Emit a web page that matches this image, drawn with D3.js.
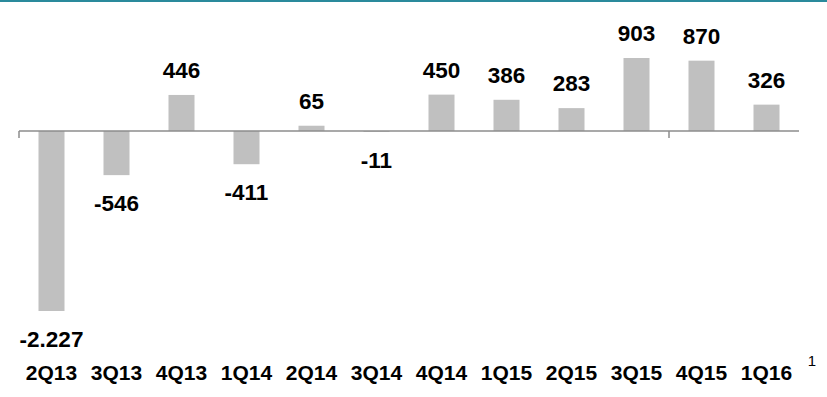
<!DOCTYPE html>
<html><head><meta charset="utf-8">
<script src="https://cdn.jsdelivr.net/npm/d3@7"></script>
<style>body{margin:0;background:#fff}svg{display:block}</style>
</head><body>
<svg id="c" width="827" height="397"></svg>
<script>
const categories = ["2Q13","3Q13","4Q13","1Q14","2Q14","3Q14","4Q14","1Q15","2Q15","3Q15","4Q15","1Q16"];
const values = [-2227,-546,446,-411,65,-11,450,386,283,903,870,326];
const valueLabels = ["-2.227","-546","446","-411","65","-11","450","386","283","903","870","326"];

const svg = d3.select("#c");
const W = 827, H = 397;
svg.append("rect").attr("x",0).attr("y",0).attr("width",W).attr("height",2).attr("fill","#2a8a9c");

const x = d3.scaleBand().domain(categories).range([19, 799]).paddingInner(0.6).paddingOuter(0.3);
const y = d3.scaleLinear().domain([-2227, 903]).range([311, 58]);
const font = "Arial, 'Liberation Sans', sans-serif";

svg.selectAll("rect.bar").data(values).enter().append("rect")
  .attr("class","bar")
  .attr("x",(d,i)=>x(categories[i]))
  .attr("width",x.bandwidth())
  .attr("y",d=>Math.min(y(d),y(0)))
  .attr("height",d=>Math.abs(y(d)-y(0)))
  .attr("fill","#c0c0c0");

// axis
svg.append("line").attr("x1",19).attr("x2",799).attr("y1",y(0)).attr("y2",y(0)).attr("stroke","#8c8c8c").attr("stroke-width",1.5);
const step = x.step();
[0,10].forEach(k=>{
  const xx = 19 + k*step;
  svg.append("line").attr("x1",xx).attr("x2",xx).attr("y1",y(0)).attr("y2",y(0)+7).attr("stroke","#8c8c8c").attr("stroke-width",1.5);
});

svg.selectAll("text.val").data(values).enter().append("text")
  .attr("class","val")
  .attr("x",(d,i)=>x(categories[i])+x.bandwidth()/2)
  .attr("y",d=> d>=0 ? y(d)-17 : y(d)+36)
  .attr("text-anchor","middle")
  .attr("font-family",font).attr("font-weight","bold").attr("font-size",22.5)
  .attr("fill","#000")
  .text((d,i)=>valueLabels[i]);

svg.selectAll("text.cat").data(categories).enter().append("text")
  .attr("class","cat")
  .attr("x",d=>x(d)+x.bandwidth()/2)
  .attr("y",380)
  .attr("text-anchor","middle")
  .attr("font-family",font).attr("font-weight","bold").attr("font-size",21)
  .attr("fill","#000")
  .text(d=>d);

svg.append("text").attr("x",812).attr("y",366).attr("text-anchor","middle")
  .attr("font-family",font).attr("font-size",15).attr("fill","#000").text("1");
</script>
</body></html>
